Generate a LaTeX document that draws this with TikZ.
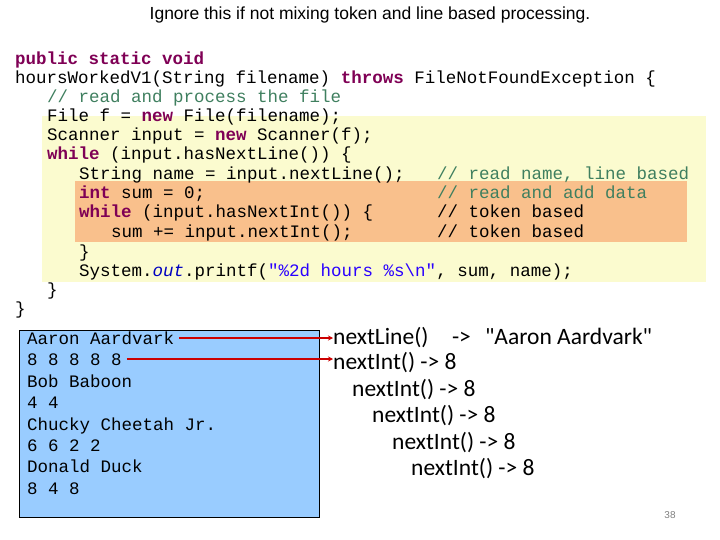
\documentclass[tikz,border=0pt]{standalone}
\usepackage{fontspec}
\setmainfont{Liberation Sans}
\setmonofont{Liberation Mono}
\newfontfamily\callfont{Carlito}
\usetikzlibrary{arrows.meta,positioning}
\definecolor{kwcol}{HTML}{7F0055}
\definecolor{cmcol}{HTML}{3F7F5F}
\definecolor{strcol}{HTML}{2A00FF}
\definecolor{fldcol}{HTML}{0000C0}
\definecolor{lightyellow}{HTML}{FBFBCF}
\definecolor{lightorange}{HTML}{F9C08C}
\definecolor{filecol}{HTML}{99CCFF}
\newcommand{\kw}[1]{\textcolor{kwcol}{\bfseries #1}}
\newcommand{\cm}[1]{\textcolor{cmcol}{#1}}
\newcommand{\str}[1]{\textcolor{strcol}{#1}}
\tikzset{
  codeline/.style={anchor=base west, inner sep=0pt, font=\ttfamily\fontsize{17.5}{19}\selectfont},
  fileline/.style={anchor=base west, inner sep=0pt, font=\ttfamily\fontsize{17.5}{21}\selectfont},
  callline/.style={anchor=base west, inner sep=0pt, font=\callfont\fontsize{23.5}{26}\selectfont},
  readarrow/.style={draw=red!80!black, line width=1.2pt, -{Stealth[length=5pt,width=5pt]}}
}
\begin{document}
\begin{tikzpicture}[x=1pt,y=-1pt]
  \useasboundingbox (0,0) rectangle (720,540);
  % highlight boxes
  \fill [lightyellow] (42,116) rectangle (706,282);
  \fill [lightorange] (75,181) rectangle (687,242);

  \node (title) at (370,15) [font=\fontsize{17.5}{19}\selectfont] {Ignore this if not mixing token and line based processing.};

  % code
  \node (c1) at (15,65) [codeline] {\kw{public static void}};
  \node (c2) at (15,84) [codeline] {hoursWorkedV1(String filename) \kw{throws} FileNotFoundException \{};
  \node (c3) at (47,103) [codeline] {\cm{// read and process the file}};
  \node (c4) at (47,122) [codeline] {File f = \kw{new} File(filename);};
  \node (c5) at (47,141) [codeline] {Scanner input = \kw{new} Scanner(f);};
  \node (c6) at (47,160) [codeline] {\kw{while} (input.hasNextLine()) \{};
  \node (c7) at (79,180) [codeline] {String name = input.nextLine();};
  \node (c8) at (79,199) [codeline] {\kw{int} sum = 0;};
  \node (c9) at (79,218) [codeline] {\kw{while} (input.hasNextInt()) \{};
  \node (c10) at (111,237) [codeline] {sum += input.nextInt();};
  \node (c11) at (79,257) [codeline] {\}};
  \node (c12) at (79,276) [codeline] {System.\textcolor{fldcol}{\itshape out}.printf(\str{"\%2d hours \%s\textbackslash n"}, sum, name);};
  \node (c13) at (47,295) [codeline] {\}};
  \node (c14) at (15,314) [codeline] {\}};
  % comments
  \node (m7) at (437,180) [codeline] {\cm{// read name, line based}};
  \node (m8) at (437,199) [codeline] {\cm{// read and add data}};
  \node (m9) at (437,218) [codeline] {// token based};
  \node (m10) at (437,237) [codeline] {// token based};

  % input file
  \draw [fill=filecol, draw=black] (19,330) rectangle (319,517);
  \node (f1) at (27,344) [fileline] {Aaron Aardvark};
  \node (f2) at (27,365) [fileline] {8 8 8 8 8};
  \node (f3) at (27,387) [fileline] {Bob Baboon};
  \node (f4) at (27,408) [fileline] {4 4};
  \node (f5) at (27,430) [fileline] {Chucky Cheetah Jr.};
  \node (f6) at (27,451) [fileline] {6 6 2 2};
  \node (f7) at (27,472) [fileline] {Donald Duck};
  \node (f8) at (27,494) [fileline] {8 4 8};

  % calls
  \node (n1) at (333,344) [callline] {nextLine()\hspace{1em}->\hspace{0.6em}"Aaron Aardvark"};
  \node (n2) at (333,369) [callline] {nextInt() -> 8};
  \node (n3) at (352,396) [callline] {nextInt() -> 8};
  \node (n4) at (372,422) [callline] {nextInt() -> 8};
  \node (n5) at (392,449) [callline] {nextInt() -> 8};
  \node (n6) at (411,475) [callline] {nextInt() -> 8};

  \coordinate (a1) at ([xshift=5pt,yshift=6pt]f1.base east);
  \coordinate (a2) at ([xshift=5pt,yshift=6pt]f2.base east);
  \draw [readarrow] (a1) -- (a1 -| n1.west);
  \draw [readarrow] (a2) -- (a2 -| n2.west);

  \node (page) at (670,515) [text=gray, font=\fontsize{10}{12}\selectfont] {38};
\end{tikzpicture}
\end{document}
